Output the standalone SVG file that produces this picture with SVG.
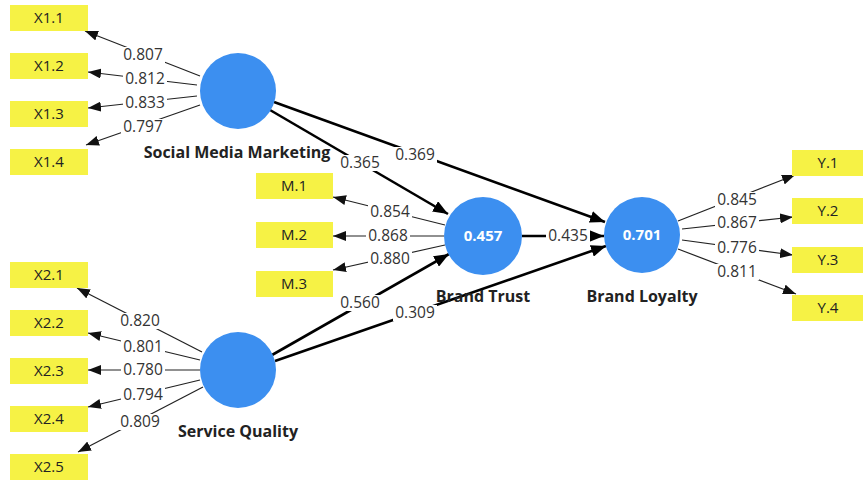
<svg xmlns="http://www.w3.org/2000/svg" width="863" height="480" viewBox="0 0 863 480">
<defs>
<marker id="ah" markerUnits="userSpaceOnUse" markerWidth="14" markerHeight="10" refX="13" refY="5" orient="auto"><path d="M0,0 L13,5 L0,10 Z" fill="#111"/></marker>
<marker id="ahb" markerUnits="userSpaceOnUse" markerWidth="16" markerHeight="12" refX="15" refY="6" orient="auto"><path d="M0,0 L15,6 L0,12 Z" fill="#000"/></marker>
<style>
.box{fill:#f6f245}
.bt{font-family:"Open Sans","Noto Sans",sans-serif;font-size:15px;fill:#222;text-anchor:middle}
.lv{fill:#3c8ff0}
.lt{font-family:"Open Sans","Noto Sans",sans-serif;font-size:16px;font-weight:bold;fill:#222;text-anchor:middle}
.in{font-family:"Open Sans","Noto Sans",sans-serif;font-size:15px;font-weight:bold;fill:#fff;text-anchor:middle}
.m{stroke:#222;stroke-width:1.2;fill:none;marker-end:url(#ah)}
.s{stroke:#000;stroke-width:2.6;fill:none;marker-end:url(#ahb)}
.bg{fill:#fff}
.w{font-family:"Open Sans","Noto Sans",sans-serif;font-size:15.5px;fill:#333;text-anchor:middle}
</style>
</defs>
<g id="connectors">
<path class="m" d="M200,76 L85,31"/>
<path class="m" d="M197,85 L88,72"/>
<path class="m" d="M197,96 L88,108"/>
<path class="m" d="M200,105 L86,145"/>
<path class="m" d="M445,225 L333,197"/>
<path class="m" d="M444,236 L333,236"/>
<path class="m" d="M445,245 L333,270"/>
<path class="m" d="M678,221 L795,175"/>
<path class="m" d="M682,229 L793,217"/>
<path class="m" d="M682,240 L793,255"/>
<path class="m" d="M678,249 L796,294"/>
<path class="m" d="M202,352 L77,288"/>
<path class="m" d="M200,360 L88,333"/>
<path class="m" d="M200,370 L88,370"/>
<path class="m" d="M200,380 L88,407"/>
<path class="m" d="M203,387 L78,452"/>
<path class="s" d="M270,110 L448,214"/>
<path class="s" d="M274,102 L605,222"/>
<path class="s" d="M522,236 L604,236"/>
<path class="s" d="M272,355 L449,254"/>
<path class="s" d="M275,361 L606,246"/>
<g class="bg">
<rect x="121" y="47" width="44" height="16"/>
<rect x="123" y="71" width="44" height="16"/>
<rect x="123" y="95" width="44" height="16"/>
<rect x="121" y="119" width="44" height="16"/>
<rect x="368" y="204" width="44" height="16"/>
<rect x="366" y="228" width="44" height="16"/>
<rect x="368" y="251" width="44" height="16"/>
<rect x="715" y="192" width="44" height="16"/>
<rect x="715" y="215" width="44" height="16"/>
<rect x="715" y="240" width="44" height="16"/>
<rect x="715" y="264" width="44" height="16"/>
<rect x="118" y="313" width="44" height="16"/>
<rect x="121" y="339" width="44" height="16"/>
<rect x="121" y="362" width="44" height="16"/>
<rect x="121" y="387" width="44" height="16"/>
<rect x="118" y="414" width="44" height="16"/>
<rect x="338" y="155" width="44" height="16"/>
<rect x="393" y="147" width="44" height="16"/>
<rect x="546" y="228" width="44" height="16"/>
<rect x="338" y="295" width="44" height="16"/>
<rect x="393" y="305" width="44" height="16"/>
</g>
<text class="w" x="143" y="60">0.807</text>
<text class="w" x="145" y="84">0.812</text>
<text class="w" x="145" y="108">0.833</text>
<text class="w" x="143" y="132">0.797</text>
<text class="w" x="390" y="217">0.854</text>
<text class="w" x="388" y="241">0.868</text>
<text class="w" x="390" y="264">0.880</text>
<text class="w" x="737" y="205">0.845</text>
<text class="w" x="737" y="228">0.867</text>
<text class="w" x="737" y="253">0.776</text>
<text class="w" x="737" y="277">0.811</text>
<text class="w" x="140" y="326">0.820</text>
<text class="w" x="143" y="352">0.801</text>
<text class="w" x="143" y="375">0.780</text>
<text class="w" x="143" y="400">0.794</text>
<text class="w" x="140" y="427">0.809</text>
<text class="w" x="360" y="168">0.365</text>
<text class="w" x="415" y="160">0.369</text>
<text class="w" x="568" y="241">0.435</text>
<text class="w" x="360" y="308">0.560</text>
<text class="w" x="415" y="318">0.309</text>
</g>
<g id="X1.1"><rect class="box" x="10" y="5" width="78" height="26"/><text class="bt" x="49" y="23">X1.1</text></g>
<g id="X1.2"><rect class="box" x="10" y="53" width="78" height="26"/><text class="bt" x="49" y="71">X1.2</text></g>
<g id="X1.3"><rect class="box" x="10" y="101" width="78" height="26"/><text class="bt" x="49" y="119">X1.3</text></g>
<g id="X1.4"><rect class="box" x="10" y="149" width="78" height="26"/><text class="bt" x="49" y="167">X1.4</text></g>
<g id="X2.1"><rect class="box" x="10" y="262" width="78" height="26"/><text class="bt" x="49" y="280">X2.1</text></g>
<g id="X2.2"><rect class="box" x="10" y="310" width="78" height="26"/><text class="bt" x="49" y="328">X2.2</text></g>
<g id="X2.3"><rect class="box" x="10" y="358" width="78" height="26"/><text class="bt" x="49" y="376">X2.3</text></g>
<g id="X2.4"><rect class="box" x="10" y="406" width="78" height="26"/><text class="bt" x="49" y="424">X2.4</text></g>
<g id="X2.5"><rect class="box" x="10" y="454" width="78" height="26"/><text class="bt" x="49" y="472">X2.5</text></g>
<g id="M.1"><rect class="box" x="256" y="173" width="77" height="26"/><text class="bt" x="294" y="191">M.1</text></g>
<g id="M.2"><rect class="box" x="256" y="222" width="77" height="26"/><text class="bt" x="294" y="240">M.2</text></g>
<g id="M.3"><rect class="box" x="256" y="271" width="77" height="26"/><text class="bt" x="294" y="289">M.3</text></g>
<g id="Y.1"><rect class="box" x="792" y="150" width="71" height="26"/><text class="bt" x="828" y="168">Y.1</text></g>
<g id="Y.2"><rect class="box" x="792" y="198" width="71" height="26"/><text class="bt" x="828" y="216">Y.2</text></g>
<g id="Y.3"><rect class="box" x="792" y="247" width="71" height="26"/><text class="bt" x="828" y="265">Y.3</text></g>
<g id="Y.4"><rect class="box" x="792" y="295" width="71" height="26"/><text class="bt" x="828" y="313">Y.4</text></g>
<g id="SocialMediaMarketing"><circle class="lv" cx="238" cy="91" r="38"/><text class="lt" x="237" y="158">Social Media Marketing</text></g>
<g id="ServiceQuality"><circle class="lv" cx="238" cy="370" r="38"/><text class="lt" x="238" y="437">Service Quality</text></g>
<g id="BrandTrust"><circle class="lv" cx="483" cy="236" r="39"/><text class="in" x="483" y="241">0.457</text><text class="lt" x="483" y="302">Brand Trust</text></g>
<g id="BrandLoyalty"><circle class="lv" cx="642" cy="235" r="38"/><text class="in" x="642" y="240">0.701</text><text class="lt" x="642" y="302">Brand Loyalty</text></g>
</svg>
